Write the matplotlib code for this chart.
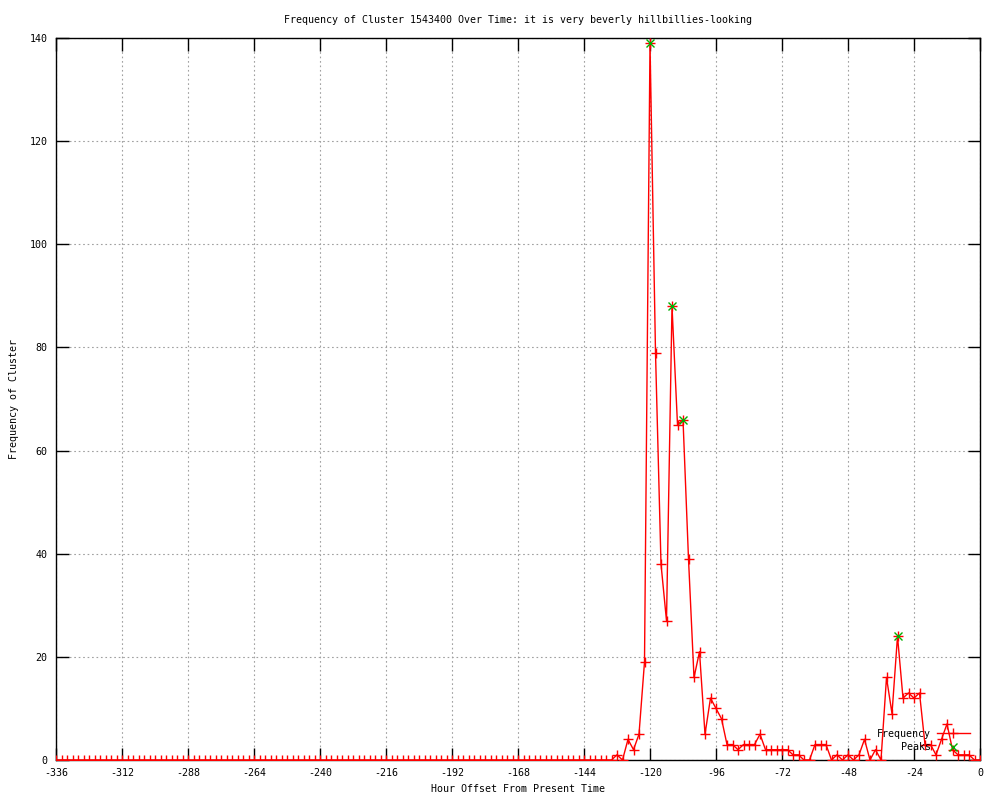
import numpy as np
import matplotlib
matplotlib.use('Agg')
import matplotlib.pyplot as plt

# hours before present, one reading every 2 hours
hours = np.arange(-336, 1, 2)

frequency = [
    0, 0, 0, 0, 0, 0, 0, 0, 0, 0, 0, 0, 0, 0, 0, 0, 0,
    0, 0, 0, 0, 0, 0, 0, 0, 0, 0, 0, 0, 0, 0, 0, 0, 0,
    0, 0, 0, 0, 0, 0, 0, 0, 0, 0, 0, 0, 0, 0, 0, 0, 0,
    0, 0, 0, 0, 0, 0, 0, 0, 0, 0, 0, 0, 0, 0, 0, 0, 0,
    0, 0, 0, 0, 0, 0, 0, 0, 0, 0, 0, 0, 0, 0, 0, 0, 0,
    0, 0, 0, 0, 0, 0, 0, 0, 0, 0, 0, 0, 0, 0, 0, 0, 0,
    1, 0, 4, 2, 5, 19, 139, 79, 38, 27, 88, 65, 66, 39, 16, 21,
    5, 12, 10, 8, 3, 3, 2, 3, 3, 3, 5, 2, 2, 2, 2, 2,
    1, 1, 0, 0, 3, 3, 3, 0, 1, 0, 1, 0, 1, 4, 0, 2,
    0, 16, 9, 24, 12, 13, 12, 13, 3, 3, 1, 4, 7, 2, 1, 1,
    1, 0, 0,
]

peak_hours = [-120, -112, -108, -30]
peak_values = [139, 88, 66, 24]

title = 'Frequency of Cluster 1543400 Over Time: it is very beverly hillbillies-looking'

plt.rcParams['font.family'] = ['DejaVu Sans Mono']
plt.rcParams['font.size'] = 7.2
plt.rcParams['axes.unicode_minus'] = False

fig = plt.figure(figsize=(10, 8), dpi=100)
ax = fig.add_axes([0.056, 0.05, 0.924, 0.9025])

ax.plot(hours, frequency, color='red', lw=1, marker='+', ms=7, mew=1,
        label='Frequency', zorder=3)
ax.plot(peak_hours, peak_values, ls='none', color='#00b000', marker='x',
        ms=6, mew=1, label='Peaks', zorder=4)

ax.set_xlim(-336, 0)
ax.set_ylim(0, 140)
ax.set_xticks(np.arange(-336, 1, 24))
ax.set_yticks(np.arange(0, 141, 20))

ax.grid(True, color='#a0a0a0', lw=0.8, linestyle=(0, (1.5, 2.5)))
ax.set_axisbelow(True)
ax.tick_params(direction='in', length=9, width=1, top=True, right=True, pad=6)
for s in ax.spines.values():
    s.set_linewidth(1)

ax.set_title(title, fontsize=7.2, pad=11)
ax.set_xlabel('Hour Offset From Present Time', labelpad=4)
ax.set_ylabel('Frequency of Cluster', labelpad=8)

ax.legend(loc='lower right', bbox_to_anchor=(0.989, 0.011), markerfirst=False,
          frameon=False, handlelength=3.3, handletextpad=0.6, labelspacing=0.35,
          borderpad=0, borderaxespad=0)

plt.savefig('out.png', dpi=100)
plt.close()
